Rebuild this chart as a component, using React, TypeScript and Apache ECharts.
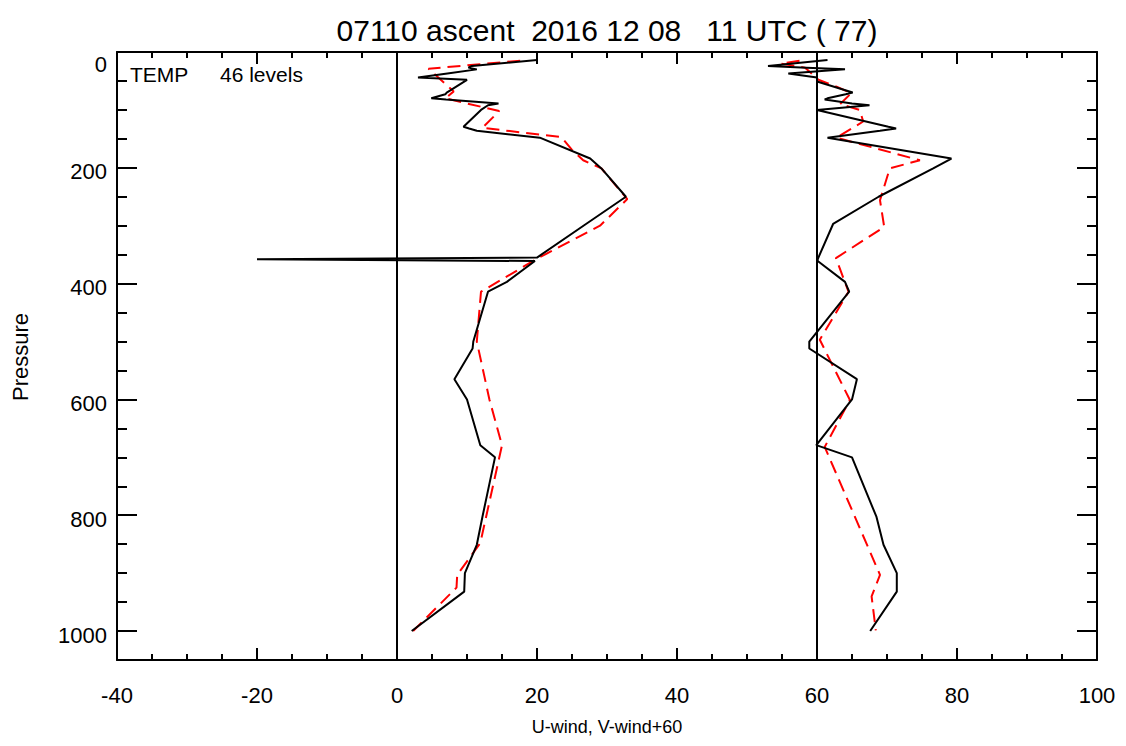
import React, { useEffect, useRef } from 'react';
import * as echarts from 'echarts';

const xRange = { min: -40, max: 100, step: 20 };
const yRange = { min: 0, max: 1050, step: 200, minor: 50 };
const refLines = [0, 60];

const levels = [14, 24, 27, 30, 37, 44, 48, 51, 70, 73, 80, 82, 89, 92, 100, 129, 132, 136, 148, 184, 201, 250, 297, 355, 358, 361, 397, 414, 500, 512, 565, 600, 679, 700, 803, 851, 900, 932, 1000];
const uWind = [20.0, 10.7, 10.2, 11.4, 7.2, 3.0, 10.0, 9.6, 7.1, 6.9, 4.9, 7.0, 14.5, 13.0, 12.0, 9.5, 10.3, 11.4, 20.4, 27.6, 29.2, 32.7, 27.0, 20.0, -20.0, 19.7, 15.7, 13.0, 10.9, 10.8, 8.2, 10.0, 11.9, 14.0, 12.2, 11.4, 9.7, 9.6, 2.1];
const vWind60 = [61.5, 53.0, 58.5, 64.0, 55.9, 60.0, 60.0, 60.0, 65.1, 64.1, 61.5, 61.1, 65.0, 67.5, 60.0, 70.2, 71.3, 69.0, 61.5, 79.2, 76.6, 68.8, 62.3, 60.2, 60.1, 60.1, 64.0, 64.6, 58.9, 58.9, 65.7, 65.0, 59.9, 65.0, 68.5, 69.5, 71.4, 71.4, 67.6];

const redULevels = [15, 29, 68, 80, 102, 131, 147, 169, 187, 201, 254, 300, 357, 414, 500, 600, 679, 848, 903, 925, 1000];
const redU = [17.6, 4.5, 8.1, 6.9, 14.6, 12.2, 23.5, 25.0, 26.6, 29.2, 32.9, 29.0, 20.0, 12.0, 11.4, 13.2, 15.0, 11.9, 8.6, 8.5, 2.3];

const redVLevels = [15, 20, 27, 40, 48, 60, 71, 90, 100, 120, 148, 187, 201, 256, 302, 356, 414, 497, 601, 682, 903, 940, 999];
const redV = [57.5, 54.8, 58.3, 59.5, 60.2, 62.8, 64.9, 63.3, 66.1, 66.6, 62.8, 74.7, 70.4, 69.0, 69.6, 62.7, 64.5, 60.4, 64.7, 61.1, 69.0, 67.8, 68.4];

const titleText = '07110 ascent  2016 12 08   11 UTC ( 77)';
const xName = 'U-wind, V-wind+60';
const yName = 'Pressure';
const noteLeft = 'TEMP';
const noteRight = '46 levels';

const FONT = '"Liberation Sans", Arial, Helvetica, sans-serif';

export default function App() {
  const ref = useRef<HTMLDivElement>(null);
  useEffect(() => {
    if (!ref.current) return;
    const chart = echarts.init(ref.current, undefined, { renderer: 'svg' });
    const pair = (xs: number[], ps: number[]) => xs.map((x, i) => [x, ps[i]]);
    const lineAx = { show: true, onZero: false, lineStyle: { color: '#000', width: 2 } };
    const noLine = { show: false, onZero: false };
    const tick = (len: number) => ({ show: true, inside: true, length: len, lineStyle: { color: '#000', width: 2 } });
    const baseY = { type: 'value', inverse: true, min: yRange.min, max: yRange.max, splitLine: { show: false } };
    const baseX = {
      type: 'value', min: xRange.min, max: xRange.max, interval: xRange.step, splitLine: { show: false },
      axisLine: lineAx, axisTick: tick(12),
      minorTick: { show: true, splitNumber: 4, length: 6, lineStyle: { color: '#000', width: 2 } },
    };
    const option: any = {
      animation: false,
      grid: { left: 117, right: 29, top: 52, bottom: 86, containLabel: false },
      xAxis: [
        {
          ...baseX, position: 'bottom',
          axisLabel: { color: '#000', fontSize: 22, fontFamily: FONT, margin: 24 },
        },
        { ...baseX, position: 'top', axisLabel: { show: false } },
      ],
      yAxis: [
        {
          ...baseY, position: 'left', interval: yRange.minor, axisLine: lineAx, axisTick: tick(10),
          axisLabel: {
            margin: 10, color: '#000', fontSize: 22, fontFamily: FONT,
            formatter: (v: number) => (v % yRange.step === 0 && v <= 1000 ? (v === 0 ? '{z|0}' : '{n|' + v + '}') : ''),
            rich: {
              z: { fontSize: 22, fontFamily: FONT, color: '#000', padding: [24, 0, 0, 0] },
              n: { fontSize: 22, fontFamily: FONT, color: '#000', padding: [8, 0, 0, 0] },
            },
          },
        },
        { ...baseY, position: 'left', interval: yRange.step, axisLine: noLine, axisTick: tick(20), axisLabel: { show: false } },
        { ...baseY, position: 'right', interval: yRange.minor, axisLine: lineAx, axisTick: tick(10), axisLabel: { show: false } },
        { ...baseY, position: 'right', interval: yRange.step, axisLine: noLine, axisTick: tick(20), axisLabel: { show: false } },
      ],
      graphic: [
        { type: 'text', silent: true, style: { text: titleText, x: 607, y: 30, align: 'center', verticalAlign: 'middle', font: '30px ' + FONT, fill: '#000' } },
        { type: 'text', silent: true, style: { text: xName, x: 607, y: 727, align: 'center', verticalAlign: 'middle', font: '18px ' + FONT, fill: '#000' } },
        { type: 'text', silent: true, x: 20, y: 357, rotation: Math.PI / 2, style: { text: yName, x: 0, y: 0, align: 'center', verticalAlign: 'middle', font: '22px ' + FONT, fill: '#000' } },
        { type: 'text', silent: true, style: { text: noteLeft, x: 130, y: 74, align: 'left', verticalAlign: 'middle', font: '21px ' + FONT, fill: '#000' } },
        { type: 'text', silent: true, style: { text: noteRight, x: 220, y: 74, align: 'left', verticalAlign: 'middle', font: '21px ' + FONT, fill: '#000' } },
      ],
      series: [
        {
          type: 'line', xAxisIndex: 0, yAxisIndex: 0, data: pair(redU, redULevels), symbol: 'none',
          lineStyle: { color: '#ff0000', width: 2, type: [13, 7] }, z: 2,
        },
        {
          type: 'line', xAxisIndex: 0, yAxisIndex: 0, data: pair(redV, redVLevels), symbol: 'none',
          lineStyle: { color: '#ff0000', width: 2, type: [13, 7] }, z: 2,
        },
        {
          type: 'line', xAxisIndex: 0, yAxisIndex: 0, data: pair(uWind, levels), symbol: 'none',
          lineStyle: { color: '#000', width: 2 }, z: 3,
          markLine: {
            silent: true, symbol: 'none', label: { show: false },
            lineStyle: { color: '#000', width: 2, type: 'solid' },
            data: refLines.map((x) => ({ xAxis: x })),
          },
        },
        {
          type: 'line', xAxisIndex: 0, yAxisIndex: 0, data: pair(vWind60, levels), symbol: 'none',
          lineStyle: { color: '#000', width: 2 }, z: 3,
        },
      ],
    };
    chart.setOption(option);
    return () => chart.dispose();
  }, []);
  return <div ref={ref} style={{ position: 'fixed', left: 0, top: 0, width: 1126, height: 746, background: '#fff' }} />;
}
